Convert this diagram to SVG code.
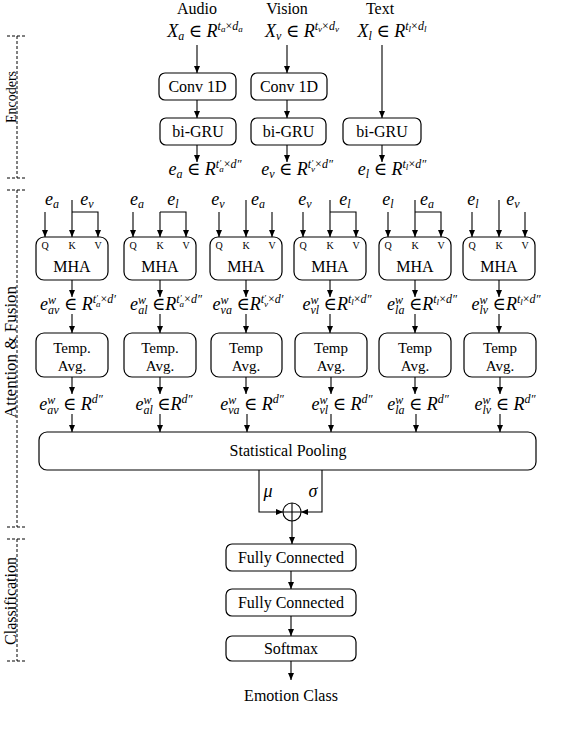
<svg xmlns="http://www.w3.org/2000/svg" width="578" height="736" viewBox="0 0 578 736">
<style>
.t{font-family:"Liberation Serif","DejaVu Serif",serif;font-size:16px;fill:#000}
.m{font-family:"Liberation Serif","DejaVu Serif",serif;font-style:italic;font-size:18px;fill:#000}
.sc{font-size:12px}
.ssc{font-size:9px}
.up{font-style:normal}
.q{font-family:"Liberation Serif","DejaVu Serif",serif;font-size:10px;fill:#000}
.box{fill:#fff;stroke:#000;stroke-width:1.2}
.ln{fill:none;stroke:#000;stroke-width:1.1}
.dash{fill:none;stroke:#000;stroke-width:1;stroke-dasharray:3 2}
</style>
<defs>
<marker id="ah" markerUnits="userSpaceOnUse" markerWidth="7" markerHeight="6" refX="7" refY="3" orient="auto">
<path d="M0,0 L7,3 L0,6 z" fill="#000"/>
</marker>
</defs>
<rect width="578" height="736" fill="#fff"/>

<g id="brackets">
<path class="dash" d="M7,36 H27 M17,36 V178 M7,178 H27"/>
<path class="dash" d="M7,190 H27 M17,190 V527 M7,527 H27"/>
<path class="dash" d="M7,539 H27 M17,539 V661 M7,661 H27"/>
<text class="t" style="font-size:14px" text-anchor="middle" transform="translate(16,97) rotate(-90)">Encoders</text>
<text class="t" style="font-size:17px" text-anchor="middle" transform="translate(16,352) rotate(-90)">Attention &amp; Fusion</text>
<text class="t" text-anchor="middle" transform="translate(16,601) rotate(-90)">Classification</text>
</g>

<g id="inputs">
<text class="t" x="197" y="14" text-anchor="middle">Audio</text>
<text class="t" x="287" y="14" text-anchor="middle">Vision</text>
<text class="t" x="380" y="14" text-anchor="middle">Text</text>
<text class="m" x="205" y="37" text-anchor="middle">X<tspan class="sc" dy="3">a</tspan><tspan class="up" dy="-3"> ∈ </tspan><tspan>R</tspan><tspan class="sc" dy="-7">t</tspan><tspan class="ssc" dy="2">a</tspan><tspan class="sc up" dy="-2">×</tspan><tspan class="sc">d</tspan><tspan class="ssc" dy="2">a</tspan></text>
<text class="m" x="302" y="37" text-anchor="middle">X<tspan class="sc" dy="3">v</tspan><tspan class="up" dy="-3"> ∈ </tspan><tspan>R</tspan><tspan class="sc" dy="-7">t</tspan><tspan class="ssc" dy="2">v</tspan><tspan class="sc up" dy="-2">×</tspan><tspan class="sc">d</tspan><tspan class="ssc" dy="2">v</tspan></text>
<text class="m" x="392" y="37" text-anchor="middle">X<tspan class="sc" dy="3">l</tspan><tspan class="up" dy="-3"> ∈ </tspan><tspan>R</tspan><tspan class="sc" dy="-7">t</tspan><tspan class="ssc" dy="2">l</tspan><tspan class="sc up" dy="-2">×</tspan><tspan class="sc">d</tspan><tspan class="ssc" dy="2">l</tspan></text>
</g>

<g id="conv_audio"><rect class="box" x="159" y="73" width="77" height="27" rx="6"/><text class="t" x="197.5" y="92" text-anchor="middle">Conv 1D</text></g>
<g id="conv_vision"><rect class="box" x="251" y="73" width="76" height="27" rx="6"/><text class="t" x="289" y="92" text-anchor="middle">Conv 1D</text></g>
<g id="gru_audio"><rect class="box" x="160" y="118" width="76" height="27" rx="6"/><text class="t" x="198" y="137" text-anchor="middle">bi-GRU</text></g>
<g id="gru_vision"><rect class="box" x="251" y="118" width="75" height="27" rx="6"/><text class="t" x="288.5" y="137" text-anchor="middle">bi-GRU</text></g>
<g id="gru_text"><rect class="box" x="343" y="118" width="78" height="27" rx="6"/><text class="t" x="382" y="137" text-anchor="middle">bi-GRU</text></g>

<g id="encoded">
<text class="m" x="205" y="175" text-anchor="middle">e<tspan class="sc" dy="3">a</tspan><tspan class="up" dy="-3"> ∈ </tspan><tspan>R</tspan><tspan class="sc" dy="-7">t</tspan><tspan class="ssc" dy="-2">′</tspan><tspan class="ssc" dx="-2" dy="6">a</tspan><tspan class="sc up" dy="-4">×</tspan><tspan class="sc">d″</tspan></text>
<text class="m" x="297" y="175" text-anchor="middle">e<tspan class="sc" dy="3">v</tspan><tspan class="up" dy="-3"> ∈ </tspan><tspan>R</tspan><tspan class="sc" dy="-7">t</tspan><tspan class="ssc" dy="-2">′</tspan><tspan class="ssc" dx="-2" dy="6">v</tspan><tspan class="sc up" dy="-4">×</tspan><tspan class="sc">d″</tspan></text>
<text class="m" x="392" y="175" text-anchor="middle">e<tspan class="sc" dy="3">l</tspan><tspan class="up" dy="-3"> ∈ </tspan><tspan>R</tspan><tspan class="sc" dy="-7">t</tspan><tspan class="ssc" dy="2">l</tspan><tspan class="sc up" dy="-2">×</tspan><tspan class="sc">d″</tspan></text>
</g>

<g id="attn_inputs">
<text class="m" x="52" y="205" text-anchor="middle">e<tspan class="sc" dy="3">a</tspan></text>
<text class="m" x="87" y="205" text-anchor="middle">e<tspan class="sc" dy="3">v</tspan></text>
<text class="m" x="137" y="205" text-anchor="middle">e<tspan class="sc" dy="3">a</tspan></text>
<text class="m" x="173" y="205" text-anchor="middle">e<tspan class="sc" dy="3">l</tspan></text>
<text class="m" x="218" y="205" text-anchor="middle">e<tspan class="sc" dy="3">v</tspan></text>
<text class="m" x="258" y="205" text-anchor="middle">e<tspan class="sc" dy="3">a</tspan></text>
<text class="m" x="305" y="205" text-anchor="middle">e<tspan class="sc" dy="3">v</tspan></text>
<text class="m" x="345" y="205" text-anchor="middle">e<tspan class="sc" dy="3">l</tspan></text>
<text class="m" x="388" y="205" text-anchor="middle">e<tspan class="sc" dy="3">l</tspan></text>
<text class="m" x="427" y="205" text-anchor="middle">e<tspan class="sc" dy="3">a</tspan></text>
<text class="m" x="473" y="205" text-anchor="middle">e<tspan class="sc" dy="3">l</tspan></text>
<text class="m" x="513" y="205" text-anchor="middle">e<tspan class="sc" dy="3">v</tspan></text>
</g>

<g id="mha_av"><rect class="box" x="36" y="237" width="72" height="43" rx="8"/><text class="q" x="45" y="249" text-anchor="middle">Q</text><text class="q" x="72" y="249" text-anchor="middle">K</text><text class="q" x="98" y="249" text-anchor="middle">V</text><text class="t" x="72" y="272" text-anchor="middle">MHA</text></g>
<g id="mha_al"><rect class="box" x="124" y="237" width="72" height="43" rx="8"/><text class="q" x="133" y="249" text-anchor="middle">Q</text><text class="q" x="160" y="249" text-anchor="middle">K</text><text class="q" x="186" y="249" text-anchor="middle">V</text><text class="t" x="160" y="272" text-anchor="middle">MHA</text></g>
<g id="mha_va"><rect class="box" x="210" y="237" width="72" height="43" rx="8"/><text class="q" x="219" y="249" text-anchor="middle">Q</text><text class="q" x="246" y="249" text-anchor="middle">K</text><text class="q" x="272" y="249" text-anchor="middle">V</text><text class="t" x="246" y="272" text-anchor="middle">MHA</text></g>
<g id="mha_vl"><rect class="box" x="294" y="237" width="72" height="43" rx="8"/><text class="q" x="303" y="249" text-anchor="middle">Q</text><text class="q" x="330" y="249" text-anchor="middle">K</text><text class="q" x="356" y="249" text-anchor="middle">V</text><text class="t" x="330" y="272" text-anchor="middle">MHA</text></g>
<g id="mha_la"><rect class="box" x="379" y="237" width="72" height="43" rx="8"/><text class="q" x="388" y="249" text-anchor="middle">Q</text><text class="q" x="415" y="249" text-anchor="middle">K</text><text class="q" x="441" y="249" text-anchor="middle">V</text><text class="t" x="415" y="272" text-anchor="middle">MHA</text></g>
<g id="mha_lv"><rect class="box" x="463" y="237" width="72" height="43" rx="8"/><text class="q" x="472" y="249" text-anchor="middle">Q</text><text class="q" x="499" y="249" text-anchor="middle">K</text><text class="q" x="525" y="249" text-anchor="middle">V</text><text class="t" x="499" y="272" text-anchor="middle">MHA</text></g>

<g id="mha_out">
<text class="m" x="78" y="310" text-anchor="middle">e<tspan class="sc" dy="-6">w</tspan><tspan class="sc" dx="-8" dy="10">av</tspan><tspan class="up" dy="-4"> ∈ </tspan><tspan>R</tspan><tspan class="sc" dy="-7">t</tspan><tspan class="ssc" dy="-2">′</tspan><tspan class="ssc" dx="-2" dy="6">a</tspan><tspan class="sc up" dy="-4">×</tspan><tspan class="sc">d′</tspan></text>
<text class="m" x="166" y="310" text-anchor="middle">e<tspan class="sc" dy="-6">w</tspan><tspan class="sc" dx="-8" dy="10">al</tspan><tspan class="up" dy="-4"> ∈</tspan><tspan>R</tspan><tspan class="sc" dy="-7">t</tspan><tspan class="ssc" dy="-2">′</tspan><tspan class="ssc" dx="-2" dy="6">a</tspan><tspan class="sc up" dy="-4">×</tspan><tspan class="sc">d″</tspan></text>
<text class="m" x="248" y="310" text-anchor="middle">e<tspan class="sc" dy="-6">w</tspan><tspan class="sc" dx="-8" dy="10">va</tspan><tspan class="up" dy="-4"> ∈</tspan><tspan>R</tspan><tspan class="sc" dy="-7">t</tspan><tspan class="ssc" dy="-2">′</tspan><tspan class="ssc" dx="-2" dy="6">v</tspan><tspan class="sc up" dy="-4">×</tspan><tspan class="sc">d′</tspan></text>
<text class="m" x="337" y="310" text-anchor="middle">e<tspan class="sc" dy="-6">w</tspan><tspan class="sc" dx="-8" dy="10">vl</tspan><tspan class="up" dy="-4"> ∈</tspan><tspan>R</tspan><tspan class="sc" dy="-7">t</tspan><tspan class="ssc" dy="2">l</tspan><tspan class="sc up" dy="-2">×</tspan><tspan class="sc">d″</tspan></text>
<text class="m" x="422" y="310" text-anchor="middle">e<tspan class="sc" dy="-6">w</tspan><tspan class="sc" dx="-8" dy="10">la</tspan><tspan class="up" dy="-4"> ∈</tspan><tspan>R</tspan><tspan class="sc" dy="-7">t</tspan><tspan class="ssc" dy="2">l</tspan><tspan class="sc up" dy="-2">×</tspan><tspan class="sc">d″</tspan></text>
<text class="m" x="506" y="310" text-anchor="middle">e<tspan class="sc" dy="-6">w</tspan><tspan class="sc" dx="-8" dy="10">lv</tspan><tspan class="up" dy="-4"> ∈</tspan><tspan>R</tspan><tspan class="sc" dy="-7">t</tspan><tspan class="ssc" dy="2">l</tspan><tspan class="sc up" dy="-2">×</tspan><tspan class="sc">d″</tspan></text>
</g>

<g id="avg_av"><rect class="box" x="36" y="333" width="72" height="44" rx="8"/><text class="t" style="font-size:15px" x="72" y="353" text-anchor="middle">Temp.</text><text class="t" style="font-size:15px" x="72" y="371" text-anchor="middle">Avg.</text></g>
<g id="avg_al"><rect class="box" x="124" y="333" width="72" height="44" rx="8"/><text class="t" style="font-size:15px" x="160" y="353" text-anchor="middle">Temp.</text><text class="t" style="font-size:15px" x="160" y="371" text-anchor="middle">Avg.</text></g>
<g id="avg_va"><rect class="box" x="211" y="333" width="71" height="44" rx="8"/><text class="t" style="font-size:15px" x="246" y="353" text-anchor="middle">Temp</text><text class="t" style="font-size:15px" x="246" y="371" text-anchor="middle">Avg.</text></g>
<g id="avg_vl"><rect class="box" x="295" y="333" width="72" height="44" rx="8"/><text class="t" style="font-size:15px" x="331" y="353" text-anchor="middle">Temp</text><text class="t" style="font-size:15px" x="331" y="371" text-anchor="middle">Avg.</text></g>
<g id="avg_la"><rect class="box" x="379" y="333" width="72" height="44" rx="8"/><text class="t" style="font-size:15px" x="415" y="353" text-anchor="middle">Temp</text><text class="t" style="font-size:15px" x="415" y="371" text-anchor="middle">Avg.</text></g>
<g id="avg_lv"><rect class="box" x="464" y="333" width="72" height="44" rx="8"/><text class="t" style="font-size:15px" x="500" y="353" text-anchor="middle">Temp</text><text class="t" style="font-size:15px" x="500" y="371" text-anchor="middle">Avg.</text></g>

<g id="avg_out">
<text class="m" x="71" y="410" text-anchor="middle">e<tspan class="sc" dy="-6">w</tspan><tspan class="sc" dx="-8" dy="10">av</tspan><tspan class="up" dy="-4"> ∈ </tspan><tspan>R</tspan><tspan class="sc" dy="-7">d″</tspan></text>
<text class="m" x="164" y="410" text-anchor="middle">e<tspan class="sc" dy="-6">w</tspan><tspan class="sc" dx="-8" dy="10">al</tspan><tspan class="up" dy="-4"> ∈</tspan><tspan>R</tspan><tspan class="sc" dy="-7">d″</tspan></text>
<text class="m" x="252" y="410" text-anchor="middle">e<tspan class="sc" dy="-6">w</tspan><tspan class="sc" dx="-8" dy="10">va</tspan><tspan class="up" dy="-4"> ∈ </tspan><tspan>R</tspan><tspan class="sc" dy="-7">d″</tspan></text>
<text class="m" x="342" y="410" text-anchor="middle">e<tspan class="sc" dy="-6">w</tspan><tspan class="sc" dx="-8" dy="10">vl</tspan><tspan class="up" dy="-4"> ∈ </tspan><tspan>R</tspan><tspan class="sc" dy="-7">d″</tspan></text>
<text class="m" x="418" y="410" text-anchor="middle">e<tspan class="sc" dy="-6">w</tspan><tspan class="sc" dx="-8" dy="10">la</tspan><tspan class="up" dy="-4"> ∈ </tspan><tspan>R</tspan><tspan class="sc" dy="-7">d″</tspan></text>
<text class="m" x="505" y="410" text-anchor="middle">e<tspan class="sc" dy="-6">w</tspan><tspan class="sc" dx="-8" dy="10">lv</tspan><tspan class="up" dy="-4"> ∈ </tspan><tspan>R</tspan><tspan class="sc" dy="-7">d″</tspan></text>
</g>

<g id="pooling"><rect class="box" x="39" y="432" width="497" height="38" rx="8"/><text class="t" x="288" y="456" text-anchor="middle">Statistical Pooling</text></g>
<g id="concat"><circle class="ln" cx="292" cy="512" r="9"/><path class="ln" d="M283,512 H301 M292,503 V521"/>
<text class="m" x="268" y="497" text-anchor="middle">μ</text>
<text class="m" x="313" y="497" text-anchor="middle">σ</text>
</g>
<g id="fc1"><rect class="box" x="226" y="544" width="130" height="27" rx="6"/><text class="t" x="291" y="563" text-anchor="middle">Fully Connected</text></g>
<g id="fc2"><rect class="box" x="226" y="589" width="130" height="27" rx="6"/><text class="t" x="291" y="608" text-anchor="middle">Fully Connected</text></g>
<g id="softmax"><rect class="box" x="226" y="636" width="130" height="25" rx="6"/><text class="t" x="291" y="654" text-anchor="middle">Softmax</text></g>
<g id="output"><text class="t" x="291" y="701" text-anchor="middle">Emotion Class</text></g>

<g id="connectors">
<path class="ln" marker-end="url(#ah)" d="M197,45 V73"/>
<path class="ln" marker-end="url(#ah)" d="M287,45 V73"/>
<path class="ln" marker-end="url(#ah)" d="M382,45 V118"/>
<path class="ln" marker-end="url(#ah)" d="M197,100 V118"/>
<path class="ln" marker-end="url(#ah)" d="M287,100 V118"/>
<path class="ln" marker-end="url(#ah)" d="M197,145 V162"/>
<path class="ln" marker-end="url(#ah)" d="M287,145 V162"/>
<path class="ln" marker-end="url(#ah)" d="M382,145 V162"/>

<path class="ln" marker-end="url(#ah)" d="M45,212 V237"/>
<path class="ln" marker-end="url(#ah)" d="M72,200 V237"/>
<path class="ln" marker-end="url(#ah)" d="M72,212 H98 V237"/>
<path class="ln" marker-end="url(#ah)" d="M133,212 V237"/>
<path class="ln" marker-end="url(#ah)" d="M160,212 V237"/>
<path class="ln" marker-end="url(#ah)" d="M160,212 H186 V237"/>
<path class="ln" marker-end="url(#ah)" d="M219,212 V237"/>
<path class="ln" marker-end="url(#ah)" d="M246,200 V237"/>
<path class="ln" marker-end="url(#ah)" d="M272,212 V237"/>
<path class="ln" marker-end="url(#ah)" d="M303,212 V237"/>
<path class="ln" marker-end="url(#ah)" d="M330,200 V237"/>
<path class="ln" marker-end="url(#ah)" d="M330,212 H356 V237"/>
<path class="ln" marker-end="url(#ah)" d="M388,212 V237"/>
<path class="ln" marker-end="url(#ah)" d="M415,200 V237"/>
<path class="ln" marker-end="url(#ah)" d="M415,212 H441 V237"/>
<path class="ln" marker-end="url(#ah)" d="M472,212 V237"/>
<path class="ln" marker-end="url(#ah)" d="M499,200 V237"/>
<path class="ln" marker-end="url(#ah)" d="M525,212 V237"/>

<path class="ln" marker-end="url(#ah)" d="M72,280 V297"/>
<path class="ln" marker-end="url(#ah)" d="M160,280 V297"/>
<path class="ln" marker-end="url(#ah)" d="M246,280 V297"/>
<path class="ln" marker-end="url(#ah)" d="M330,280 V297"/>
<path class="ln" marker-end="url(#ah)" d="M415,280 V297"/>
<path class="ln" marker-end="url(#ah)" d="M499,280 V297"/>

<path class="ln" marker-end="url(#ah)" d="M72,314 V333"/>
<path class="ln" marker-end="url(#ah)" d="M160,314 V333"/>
<path class="ln" marker-end="url(#ah)" d="M246,314 V333"/>
<path class="ln" marker-end="url(#ah)" d="M330,314 V333"/>
<path class="ln" marker-end="url(#ah)" d="M415,314 V333"/>
<path class="ln" marker-end="url(#ah)" d="M499,314 V333"/>

<path class="ln" marker-end="url(#ah)" d="M72,377 V394"/>
<path class="ln" marker-end="url(#ah)" d="M160,377 V394"/>
<path class="ln" marker-end="url(#ah)" d="M246,377 V394"/>
<path class="ln" marker-end="url(#ah)" d="M331,377 V394"/>
<path class="ln" marker-end="url(#ah)" d="M415,377 V394"/>
<path class="ln" marker-end="url(#ah)" d="M500,377 V394"/>

<path class="ln" marker-end="url(#ah)" d="M72,414 V432"/>
<path class="ln" marker-end="url(#ah)" d="M160,414 V432"/>
<path class="ln" marker-end="url(#ah)" d="M247,414 V432"/>
<path class="ln" marker-end="url(#ah)" d="M331,414 V432"/>
<path class="ln" marker-end="url(#ah)" d="M416,414 V432"/>
<path class="ln" marker-end="url(#ah)" d="M500,414 V432"/>

<path class="ln" marker-end="url(#ah)" d="M259,470 V512 H283"/>
<path class="ln" marker-end="url(#ah)" d="M322,470 V512 H301"/>
<path class="ln" marker-end="url(#ah)" d="M292,521 V544"/>
<path class="ln" marker-end="url(#ah)" d="M291,571 V589"/>
<path class="ln" marker-end="url(#ah)" d="M291,616 V636"/>
<path class="ln" marker-end="url(#ah)" d="M291,661 V680"/>
</g>
</svg>
